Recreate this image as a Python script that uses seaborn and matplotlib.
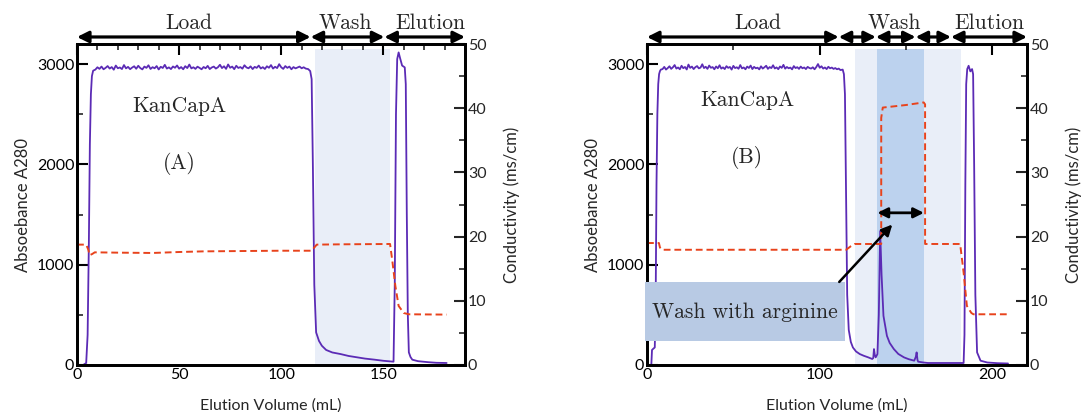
import matplotlib
matplotlib.use("Agg")
import matplotlib.pyplot as plt
from matplotlib.patches import Rectangle
from matplotlib.ticker import MultipleLocator
import seaborn as sns

# ---------------- data ----------------
# Panel A absorbance (A280)
a_abs_x_start = [0, 3, 4.5, 5.2, 5.8, 6.3, 6.8, 7.3, 7.9]
a_abs_y_start = [0, 0, 20, 300, 1200, 2200, 2700, 2880, 2934]
a_plateau = [2945, 2968, 2952, 2975, 2948, 2962, 2980, 2955, 2970, 2944, 2985, 2958, 2966, 2950, 2990, 2957, 2972, 2949, 2965, 2978,
             2953, 2983, 2960, 2947, 2975, 2962, 2988, 2951, 2969, 2958, 2980, 2946, 2973, 2961, 2992, 2955, 2967, 2950, 2976, 2963,
             2986, 2954, 2970, 2948, 2979, 2960, 2995, 2957, 2968, 2952, 2974, 2962, 2948, 2971, 2958, 2982, 2950, 2966, 2975, 2955,
             2968, 2993, 2960, 2978, 2952, 2996, 2963, 2975, 2949, 2983, 2961, 2970, 2954, 2988, 2966, 2958, 2977, 2950, 2972, 2962,
             2985, 2956, 2969, 2951, 2978, 2963, 2990, 2955, 2973, 2960, 2999, 2968, 2952, 2980, 2962, 2975, 2948, 2970, 2957, 2966,
             2975, 2958, 2968, 2955]
a_plateau_x = list(range(9, 113))
a_abs_x_end = [113.2, 114.2, 114.9, 115.5, 116.2, 117.1, 118.5, 119.9, 122, 125, 129.1, 133, 137.5, 141, 145.8, 150, 155.0,
               155.6, 156.2, 156.8, 157.5, 158.2, 159.2, 160.5, 161.0, 161.5, 162.0, 162.5, 163.3, 164.2, 167, 172, 176, 181]
a_abs_y_end = [2950, 2930, 2850, 2000, 800, 325, 240, 192, 150, 125, 109, 90, 76, 64, 53, 42, 33,
               800, 2500, 3050, 3116, 3060, 2985, 2967, 2800, 1500, 500, 126, 80, 53, 38, 28, 22, 20]

# Panel A conductivity (ms/cm)
a_cond_x = [0, 4.5, 5.5, 6.2, 7.5, 8.7, 20, 37, 50, 62, 80, 100, 115, 116.2, 117.4, 130, 153.3,
            154.5, 155.9, 157.5, 160, 162.5, 181]
a_cond_y = [18.75, 18.75, 18.0, 17.1, 17.3, 17.55, 17.5, 17.45, 17.6, 17.7, 17.75, 17.8, 17.8, 18.3, 18.75, 18.8, 18.85,
            16.0, 12.3, 9.2, 8.1, 7.9, 7.85]

# Panel B absorbance (A280)
b_abs_x_start = [0, 2.5, 2.9, 3.5, 4.5, 5.0, 5.5, 6.0, 6.5, 7.0, 7.5, 8.0]
b_abs_y_start = [0, 0, 150, 160, 175, 600, 1800, 2500, 2800, 2900, 2930, 2945]
b_plateau = [2950, 2972, 2945, 2960, 2978, 2952, 2968, 2990, 2955, 2966, 2948, 2983, 2959, 2971, 2946, 2995, 2962, 2975, 2950, 2969,
             2980, 2957, 2965, 2998, 2960, 2973, 2952, 2985, 2963, 2970, 2948, 2976, 2958, 2988, 2955, 2967, 2950, 2979, 2962, 2971,
             2945, 2982, 2960, 2968, 2953, 2990, 2957, 2966, 2948, 2975, 2961, 2985, 2950, 2972, 2958, 2964, 2947, 2978, 2955, 2968,
             2983, 2952, 2970, 2960, 2988, 2956, 2967, 2949, 2976, 2962, 2992, 2954, 2971, 2958, 2965, 2947, 2980, 2960, 2969, 2952,
             2975, 2958, 2966, 2950, 2972, 2961, 2955, 2968, 2948, 2970, 3000, 2963, 2978, 2955, 2966, 2950, 2973, 2958, 2965, 2952,
             2960, 2948, 2955, 2940]
b_plateau_x = list(range(9, 113))
b_abs_x_end = [113.3, 114.0, 114.6, 115.2, 115.9, 116.8, 118, 119.2, 121, 123.2, 125.5, 128.1, 130.4, 131.0, 131.4, 131.9,
               132.4, 133.4, 134.2, 135.0, 135.8, 136.9, 138.9, 140.5, 142.9, 145.5, 148.8, 151.5, 154.7, 155.6, 156.1,
               156.6, 157.0, 160, 162.6, 170, 178, 183.3, 183.8, 184.3, 184.8, 185.4, 186.2, 187.2, 188.2, 188.8, 189.4,
               190.1, 191.1, 193.1, 197, 203, 209]
b_abs_y_end = [2945, 2900, 2700, 1800, 700, 350, 230, 175, 135, 109, 92, 76, 60, 70, 159, 100,
               76, 109, 500, 1334, 900, 490, 291, 220, 159, 110, 76, 58, 43, 80, 126,
               50, 33, 25, 20, 20, 20, 20, 300, 1800, 2800, 2950, 2983, 2927, 2950, 2900, 2000,
               700, 126, 43, 25, 18, 15]

# Panel B conductivity (ms/cm)
b_cond_x = [0, 6.9, 7.5, 8.5, 30, 60, 90, 115.3, 118, 120.2, 135.0, 135.6, 135.6, 136.5, 140, 150, 160.2,
            161.0, 161.0, 181.3, 183.3, 185.2, 187.8, 189, 208.9]
b_cond_y = [19.0, 19.0, 18.3, 17.95, 17.95, 17.95, 17.95, 17.95, 18.5, 18.85, 18.85, 18.85, 38.5, 40.1, 40.2, 40.5, 40.9,
            40.6, 18.85, 18.85, 14.4, 9.2, 8.1, 7.9, 7.9]

# Phase annotations (mL)
a_phase_bounds = [0, 114.4, 150.5, 190]
a_phase_labels = ["Load", "Wash", "Elution"]
a_phase_label_x = [54.8, 131.6, 172.9]
b_phase_bounds = [0, 111, 132.5, 155.5, 176, 220]
b_phase_labels = ["Load", "Wash", "Elution"]
b_phase_label_x = [64, 143, 198.5]

a_wash_span = (116.5, 153.5)
b_wash_span = (120.5, 181.5)
b_arg_span = (133.4, 160.3)

# ---------------- style ----------------
sns.set_theme(style="white")
plt.rcParams["font.family"] = ["Lato", "DejaVu Sans"]
SERIF = "cmr10"
ABS_C = "#5B2BB5"
COND_C = "#E8431C"
LIGHT = "#E9EEF8"
DARK = "#BCD2EE"
BOX = "#B8CAE4"

fig = plt.figure(figsize=(10.82, 4.12), dpi=100)
axA = fig.add_axes([77 / 1082, 47 / 412, 388 / 1082, 321 / 412])
axB = fig.add_axes([647 / 1082, 47 / 412, 380 / 1082, 321 / 412])


def style_axes(ax, ax2, xmax, xmajor, xminor):
    ax.set_xlim(0, xmax)
    ax.set_ylim(0, 3200)
    ax2.set_ylim(0, 50)
    ax.xaxis.set_major_locator(MultipleLocator(xmajor))
    ax.xaxis.set_minor_locator(MultipleLocator(xminor))
    ax.yaxis.set_major_locator(MultipleLocator(1000))
    ax.yaxis.set_minor_locator(MultipleLocator(500))
    ax2.yaxis.set_major_locator(MultipleLocator(10))
    ax2.yaxis.set_minor_locator(MultipleLocator(5))
    ax.tick_params(axis="both", which="major", direction="in", length=8, width=1.5,
                   top=True, right=False, labelsize=11.5, pad=2, colors="black")
    ax.tick_params(axis="both", which="minor", direction="in", length=4, width=1.2,
                   top=True, right=False)
    ax2.tick_params(axis="y", which="major", direction="in", length=8, width=1.5,
                    labelsize=11.5, pad=2)
    ax2.tick_params(axis="y", which="minor", direction="in", length=4, width=1.2)
    for a in (ax, ax2):
        for s in a.spines.values():
            s.set_linewidth(2)
            s.set_color("black")
    ax.set_xlabel("Elution Volume (mL)", fontsize=11.5, labelpad=12)
    ax.set_ylabel("Absoebance A280", fontsize=12, labelpad=4)
    ax2.set_ylabel("Conductivity (ms/cm)", fontsize=12, labelpad=12)


def phase_arrows(ax, bounds, labels, label_x):
    y = 3270
    for x0, x1 in zip(bounds[:-1], bounds[1:]):
        ax.annotate("", xy=(x1, y), xytext=(x0, y), xycoords="data",
                    arrowprops=dict(arrowstyle="<|-|>", color="black", lw=2.3,
                                    mutation_scale=17, shrinkA=0, shrinkB=0),
                    annotation_clip=False)
    for lab, lx in zip(labels, label_x):
        ax.text(lx, y + 75, lab, ha="center", va="baseline", fontsize=15.5,
                family=SERIF, clip_on=False)


def draw_panel(ax, xs, ys, cx, cy, xmax, xmajor, xminor):
    sns.lineplot(x=xs, y=ys, ax=ax, color=ABS_C, lw=1.3, estimator=None, sort=False)
    ax2 = ax.twinx()
    sns.lineplot(x=cx, y=cy, ax=ax2, color=COND_C, lw=1.4, estimator=None, sort=False,
                 dashes=False, linestyle=(0, (3.5, 2)))
    style_axes(ax, ax2, xmax, xmajor, xminor)
    return ax2


# Panel A
axA.axvspan(*a_wash_span, ymin=0, ymax=3150 / 3200, color=LIGHT, lw=0, zorder=0)
axA_x = a_abs_x_start + a_plateau_x + a_abs_x_end
axA_y = a_abs_y_start + a_plateau + a_abs_y_end
axA2 = draw_panel(axA, axA_x, axA_y, a_cond_x, a_cond_y, 190, 50, 10)
phase_arrows(axA, a_phase_bounds, a_phase_labels, a_phase_label_x)
axA.text(50, 2580, "KanCapA", ha="center", va="center", fontsize=15.5, family=SERIF)
axA.text(50, 2007, "(A)", ha="center", va="center", fontsize=15.5, family=SERIF)

# Panel B
axB.axvspan(*b_wash_span, ymin=0, ymax=3150 / 3200, color=LIGHT, lw=0, zorder=0)
axB.axvspan(*b_arg_span, ymin=0, ymax=3150 / 3200, color=DARK, lw=0, zorder=0)
axB_x = b_abs_x_start + b_plateau_x + b_abs_x_end
axB_y = b_abs_y_start + b_plateau + b_abs_y_end
axB2 = draw_panel(axB, axB_x, axB_y, b_cond_x, b_cond_y, 220, 100, 50)
phase_arrows(axB, b_phase_bounds, b_phase_labels, b_phase_label_x)
axB.text(58, 2636, "KanCapA", ha="center", va="center", fontsize=15.5, family=SERIF)
axB.text(58, 2073, "(B)", ha="center", va="center", fontsize=15.5, family=SERIF)

# arginine wash annotation (drawn on top axis, in absorbance coordinates)
axB2.annotate("", xy=(b_arg_span[1], 1517), xytext=(b_arg_span[0], 1517), xycoords=axB.transData,
              textcoords=axB.transData,
              arrowprops=dict(arrowstyle="<|-|>", color="black", lw=2.0, mutation_scale=15,
                              shrinkA=0, shrinkB=0))
axB2.add_patch(Rectangle((-1, 242), 115.7, 586, transform=axB.transData, facecolor=BOX,
                         edgecolor="none", zorder=5, clip_on=False))
axB2.text(56.7, 530, "Wash with arginine", transform=axB.transData, ha="center", va="center",
          fontsize=15.5, family=SERIF, zorder=6)
axB2.annotate("", xy=(142, 1400), xytext=(111.3, 828), xycoords=axB.transData,
              textcoords=axB.transData,
              arrowprops=dict(arrowstyle="-|>", color="black", lw=1.8, mutation_scale=16,
                              shrinkA=0, shrinkB=0), zorder=7)

fig.savefig("out.png", dpi=100)
